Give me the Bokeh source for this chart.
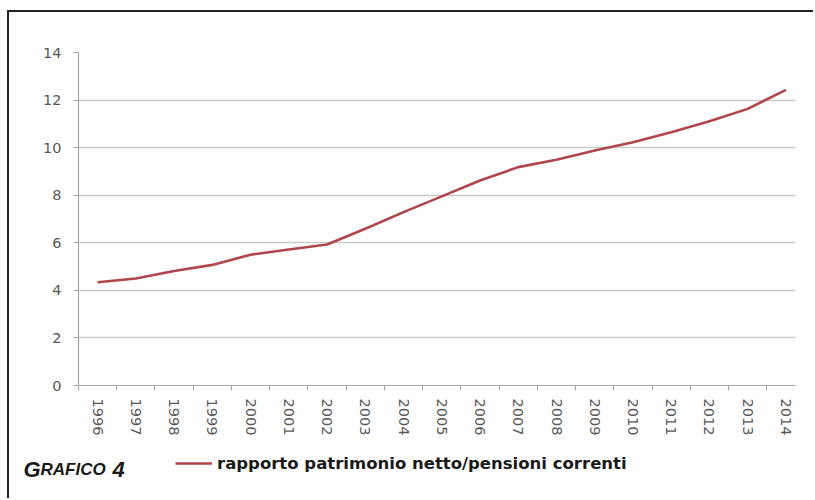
import math
from bokeh.plotting import figure
from bokeh.layouts import column
from bokeh.models import (Range1d, FixedTicker, Label, Legend, LegendItem,
                          ColumnDataSource)
from bokeh.embed import file_html
from bokeh.resources import INLINE

# ---- data ----
years = ["1996", "1997", "1998", "1999", "2000", "2001", "2002", "2003", "2004",
         "2005", "2006", "2007", "2008", "2009", "2010", "2011", "2012", "2013", "2014"]
ratio = [4.34, 4.50, 4.81, 5.07, 5.50, 5.72, 5.93, 6.59, 7.29,
         7.95, 8.62, 9.18, 9.49, 9.88, 10.23, 10.65, 11.11, 11.63, 12.43]
y_ticks = [0, 2, 4, 6, 8, 10, 12, 14]
series_label = "rapporto patrimonio netto/pensioni correnti"
chart_caption = ["G", "RAFICO", "4"]

LINE_COLOR = "#b0464b"
LINE_WIDTH = 2.6
TICK_FONT = "DejaVu Sans"
BORDER = "2px solid #222222"

xs = list(range(len(years)))
src = ColumnDataSource(dict(x=xs, y=ratio))

# ---------- main chart ----------
p = figure(width=804, height=430, output_backend="svg", toolbar_location=None,
           x_range=Range1d(-0.5, len(years) - 0.75), y_range=Range1d(0, 14),
           min_border_left=69, min_border_right=18, min_border_top=40,
           min_border_bottom=57)
p.outline_line_color = None
p.background_fill_color = "white"
p.border_fill_color = "white"

r = p.line("x", "y", source=src, line_color=LINE_COLOR, line_width=LINE_WIDTH)

axis_col = "#a6a6a6"
lab_col = "#595959"

xa = p.xaxis[0]
xa.ticker = FixedTicker(ticks=xs, minor_ticks=[i - 0.5 for i in xs])
xa.major_label_overrides = {i: y for i, y in enumerate(years)}
xa.major_label_orientation = -math.pi / 2
xa.major_tick_out = 0
xa.major_tick_in = 0
xa.minor_tick_out = 5
xa.minor_tick_in = 0
xa.minor_tick_line_color = axis_col
xa.axis_line_color = axis_col
xa.axis_line_width = 1.2
xa.major_label_standoff = 8
xa.major_label_text_font = TICK_FONT
xa.major_label_text_font_size = "14.5px"
xa.major_label_text_color = lab_col

ya = p.yaxis[0]
ya.ticker = FixedTicker(ticks=y_ticks)
ya.major_tick_out = 5
ya.major_tick_in = 0
ya.minor_tick_out = 0
ya.minor_tick_in = 0
ya.major_tick_line_color = axis_col
ya.axis_line_color = axis_col
ya.axis_line_width = 1.2
ya.major_label_standoff = 12
ya.major_label_text_font = TICK_FONT
ya.major_label_text_font_size = "14.5px"
ya.major_label_text_color = lab_col

p.xgrid.visible = False
p.ygrid.ticker = FixedTicker(ticks=y_ticks)
p.ygrid.grid_line_color = "#cccccc"
p.ygrid.grid_line_width = 1.4

# ---------- footer strip: caption + legend ----------
f = figure(width=804, height=56, output_backend="svg", toolbar_location=None,
           x_range=Range1d(0, 804), y_range=Range1d(0, 56),
           x_axis_location=None, y_axis_location=None,
           min_border=0, min_border_left=0, min_border_right=0,
           min_border_top=0, min_border_bottom=0)
f.grid.visible = False
f.outline_line_color = None
f.background_fill_color = "white"
f.border_fill_color = "white"
for fig in (p, f):
    try:
        fig.frame_align = False
    except Exception:
        pass

# legend sample: the same series drawn on a hidden range of the footer
f.extra_y_ranges = {"hidden": Range1d(1000, 2000)}
sample = f.line(x=xs, y=ratio, y_range_name="hidden",
                line_color=LINE_COLOR, line_width=LINE_WIDTH)
legend = Legend(items=[LegendItem(label=series_label, renderers=[sample])],
                location=(166, 25), padding=0, margin=0, glyph_width=37,
                glyph_height=20, label_standoff=5, border_line_color=None,
                background_fill_alpha=0, label_text_font="DejaVu Sans",
                label_text_font_style="bold", label_text_font_size="16.5px",
                label_text_color="#1a1a1a")
f.add_layout(legend)

cap_font = "Liberation Sans"
for txt, cx, size in [(chart_caption[0], 14, "22px"),
                      (chart_caption[1], 31, "17px"),
                      (chart_caption[2], 103, "22px")]:
    f.add_layout(Label(x=cx, y=29, text=txt, text_font=cap_font,
                       text_font_style="bold italic", text_font_size=size,
                       text_color="#1a1a1a", text_baseline="alphabetic"))

layout = column(p, f, spacing=0, width=806, height=488,
                styles={"margin-left": "7px", "margin-top": "10px",
                        "border-left": BORDER, "border-top": BORDER,
                        "overflow": "hidden"})

open("out.html", "w").write(file_html(layout, INLINE))
